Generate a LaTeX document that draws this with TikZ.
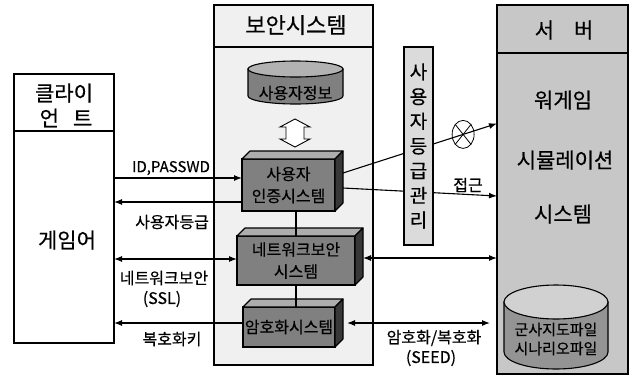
\documentclass[tikz,border=0pt]{standalone}
\usepackage{fontspec}
\setmainfont{Noto Sans CJK KR}[FakeBold=0.4]
\usetikzlibrary{arrows.meta,shapes.geometric,calc}
\newcommand\myfs[1]{\fontsize{#1}{#1}\selectfont}
\begin{document}
\begin{tikzpicture}[x=1pt,y=-1pt,line width=1.1pt,
  box/.style={draw,rectangle,inner sep=0pt,outer sep=0pt},
  threed/.style={box,fill=black!50,align=center,font={\fontsize{16pt}{22pt}\selectfont}},
  topface/.style={draw,fill=black!32,line join=round},
  sideface/.style={draw,fill=black!78,line join=round},
  arr/.style={-{Latex[length=8pt,width=6pt]},line width=1.1pt},
  arrl/.style={{Latex[length=8pt,width=6pt]}-,line width=1.1pt},
  arrb/.style={{Latex[length=8pt,width=6pt]}-{Latex[length=8pt,width=6pt]},line width=1.1pt},
  lbl/.style={inner sep=0pt,font=\myfs{16pt}},
  big/.style={inner sep=0pt,font=\myfs{21pt}}]
\useasboundingbox (0,0) rectangle (633,376);

% ---------- security system ----------
\node[box,fill=black!6,minimum width=159pt,minimum height=360pt] (sec) at (293.5,185) {};
\coordinate (sech) at (0,47);
\draw (sec.west |- sech) -- (sec.east |- sech);
\node[inner sep=0pt,font=\myfs{22pt}] (sect) at (296,25) {보안시스템};

% ---------- client ----------
\node[box,fill=white,minimum width=100pt,minimum height=269pt] (cl) at (64,208.5) {};
\coordinate (clh) at (0,131);
\draw (cl.west |- clh) -- (cl.east |- clh);
\node[big] (clt1) at (64,93) {클라이};
\node[big] (clt2) at (66,118) {언\hspace{14pt}트};
\node[big] (game) at (67,240) {게임어};

% ---------- server ----------
\node[box,fill=black!22,minimum width=131pt,minimum height=369pt] (srv) at (562.5,189.5) {};
\coordinate (srvh) at (0,53);
\draw (srv.west |- srvh) -- (srv.east |- srvh);
\node[big] (srvt) at (564,30) {서\hspace{20pt}버};
\node[big] (s1) at (563,100) {워게임};
\node[big] (s2) at (565,160) {시뮬레이션};
\node[big] (s3) at (563,214) {시스템};

% server cylinder
\draw[fill=black!42] (504,302) -- (504,352) arc[start angle=180,end angle=360,x radius=52pt,y radius=17pt] -- (608,302) -- cycle;
\draw[fill=black!18] (556,302) ellipse[x radius=52pt,y radius=17pt];
\node[inner sep=0pt,align=center,font={\fontsize{15pt}{19pt}\selectfont}] (map) at (556,339) {군사지도파일\\시나리오파일};

% ---------- user info cylinder ----------
\draw[fill=black!50] (248,69) -- (248,96) arc[start angle=180,end angle=360,x radius=47.5pt,y radius=8pt] -- (343,69) -- cycle;
\draw[fill=black!30] (295.5,69) ellipse[x radius=47.5pt,y radius=8pt];
\node[lbl] (uinfo) at (295.5,93) {사용자정보};

% ---------- 3D boxes ----------
\node[threed,minimum width=93pt,minimum height=52pt] (auth) at (288.5,185) {사용자\\인증시스템};
\node[threed,minimum width=118pt,minimum height=49pt] (net) at (296,260.5) {네트워크보안\\시스템};
\node[threed,minimum width=92pt,minimum height=40pt] (enc) at (289,327) {암호화시스템};
\foreach \n in {auth,net,enc}{
  \draw[topface] (\n.north west) -- ++(8,-8) -- ($(\n.north east)+(8,-8)$) -- (\n.north east) -- cycle;
  \draw[sideface] (\n.north east) -- ++(8,-8) -- ($(\n.south east)+(8,-8)$) -- (\n.south east) -- cycle;
}

% hollow double arrow between user info and auth
\coordinate (dbl) at (295,133);
\draw[fill=white,line width=0.9pt,line join=miter] ($(dbl)+(0,-14)$) -- ++(15,8) -- ++(-6,0) -- ++(0,12) -- ++(6,0) -- ++(-15,8) -- ++(-15,-8) -- ++(6,0) -- ++(0,-12) -- ++(-6,0) -- cycle;

% vertical connectors
\draw (net.north) -- (net.north |- auth.south);
\draw (net.south) -- (net.south |- enc.north);

% ---------- left arrows ----------
\coordinate (a1) at ([yshift=7pt]auth.west);
\draw[arr] (a1 -| cl.east) -- (a1);
\node[lbl,font=\myfs{15pt}] (l1) at (171,168) {ID,PASSWD};
\coordinate (a2) at ([yshift=-17pt]auth.west);
\draw[arrl] (a2 -| cl.east) -- (a2);
\node[lbl] (l2) at (172,222) {사용자등급};
\coordinate (a3) at ([yshift=1.5pt]net.west);
\draw[arrb] (a3 -| cl.east) -- (a3);
\node[lbl] (l3) at (164,278) {네트워크보안};
\node[lbl] (l3b) at (162,299) {(SSL)};
\coordinate (a4) at ([yshift=4pt]enc.west);
\draw[arrl] (a4 -| cl.east) -- (a4);
\node[lbl] (l4) at (172,339) {복호화키};

% ---------- right arrows ----------
\coordinate (b1) at ([xshift=8pt,yshift=12pt]auth.east);
\coordinate (c1) at ([yshift=66pt]srv.west);
\draw[arr] (b1) -- (c1) node[pos=0.78,draw,ellipse,line width=0.8pt,minimum width=22pt,minimum height=28pt,inner sep=0pt] (xo) {};
\draw[line width=0.8pt] (xo.north west) -- (xo.south east) (xo.north east) -- (xo.south west);
\coordinate (b2) at ([xshift=8pt,yshift=-3pt]auth.east);
\coordinate (c2) at ([yshift=-6.5pt]srv.west);
\draw[arr] (b2) -- (c2);
\node[lbl] (l5) at (468,185) {접근};
\coordinate (b3) at ([xshift=8pt,yshift=2.5pt]net.east);
\draw[arrb] (b3) -- (b3 -| srv.west);
\coordinate (b4) at ([xshift=12pt,yshift=4pt]enc.east);
\coordinate (c4) at ([xshift=-7pt]srv.west);
\draw[arrb] (b4) -- (b4 -| c4);
\node[lbl] (l6) at (434,338) {암호화/복호화};
\node[lbl] (l6b) at (431,358) {(SEED)};

% user grade management (drawn over the line)
\node[box,fill=black!14,minimum width=29pt,minimum height=198pt,align=center,font={\fontsize{19pt}{24.7pt}\selectfont}] (vr) at (418.5,146) {사\\용\\자\\등\\급\\관\\리};
\end{tikzpicture}
\end{document}
